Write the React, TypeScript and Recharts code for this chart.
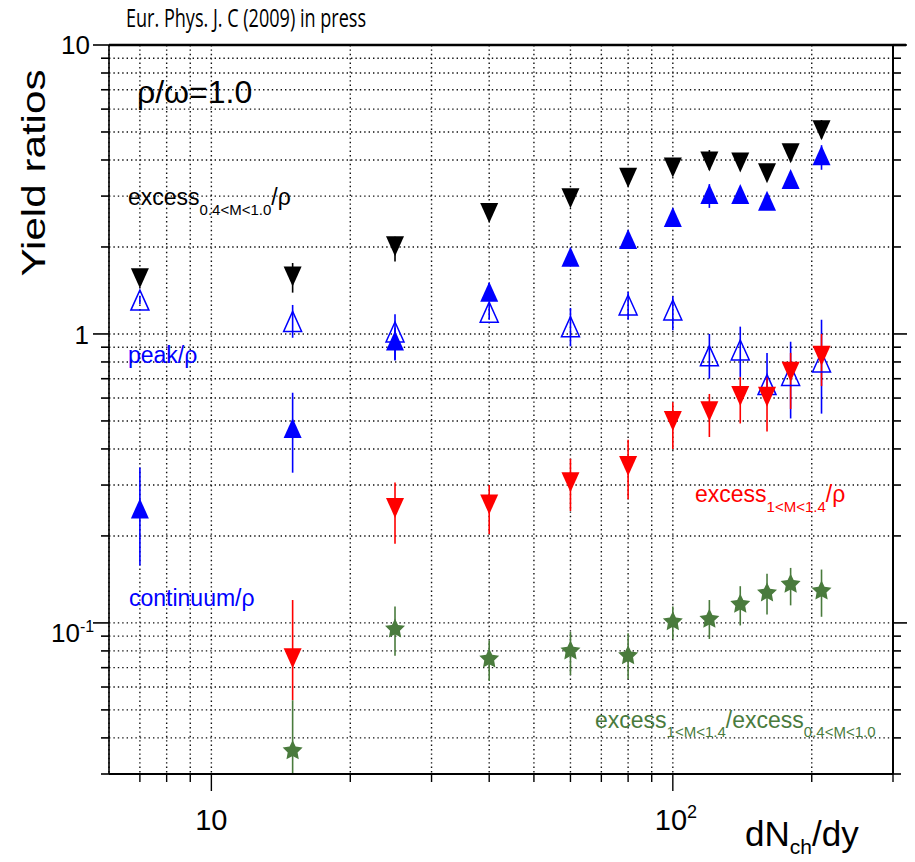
import React from 'react';
import { ScatterChart, Scatter, XAxis, YAxis, CartesianGrid, ErrorBar } from 'recharts';

// dN_ch/dy bins
const dNch = [7, 15, 25, 40, 60, 80, 100, 120, 140, 160, 180, 210];
const dNchNoLowest = [15, 25, 40, 60, 80, 100, 120, 140, 160, 180, 210];

// excess(0.4<M<1.0)/rho  (black, down triangles)
const excessLowVal = [1.56, 1.58, 2.01, 2.62, 2.95, 3.47, 3.77, 3.95, 3.92, 3.6, 4.22, 5.07];
const excessLowLo = [1.5, 1.39, 1.78, 2.5, 2.8, 3.3, 3.6, 3.7, 3.7, 3.4, 3.95, 4.75];
const excessLowHi = [1.62, 1.76, 2.17, 2.72, 3.1, 3.62, 3.95, 4.33, 4.1, 3.8, 4.45, 5.5];

// peak/rho  (blue, open up triangles)
const peakVal = [1.31, 1.105, 1.016, 1.19, 1.06, 1.26, 1.21, 0.84, 0.88, 0.668, 0.718, 0.8];
const peakLo = [1.27, 0.97, 0.81, 1.12, 0.906, 1.12, 1.03, 0.7, 0.71, 0.62, 0.51, 0.53];
const peakHi = [1.35, 1.26, 1.17, 1.27, 1.23, 1.4, 1.35, 1.0, 1.06, 0.86, 0.94, 1.12];

// continuum/rho  (blue, filled up triangles)
const contVal = [0.249, 0.473, 0.95, 1.4, 1.85, 2.13, 2.54, 3.05, 3.05, 2.89, 3.44, 4.15];
const contLo = [0.158, 0.331, 0.815, 1.3, 1.75, 2.05, 2.45, 2.73, 2.9, 2.7, 3.3, 3.7];
const contHi = [0.345, 0.626, 1.05, 1.5, 1.95, 2.22, 2.65, 3.3, 3.2, 3.05, 3.6, 4.5];

// excess(1<M<1.4)/rho  (red, down triangles)
const excessHighVal = [0.0755, 0.25, 0.257, 0.307, 0.349, 0.5, 0.54, 0.61, 0.606, 0.74, 0.84];
const excessHighLo = [0.054, 0.188, 0.203, 0.244, 0.268, 0.4, 0.44, 0.49, 0.46, 0.55, 0.66];
const excessHighHi = [0.12, 0.306, 0.3, 0.37, 0.43, 0.58, 0.62, 0.71, 0.71, 0.86, 1.0];

// excess(1<M<1.4)/excess(0.4<M<1.0)  (green stars)
const ratioVal = [0.0361, 0.0952, 0.075, 0.08, 0.077, 0.101, 0.103, 0.116, 0.127, 0.136, 0.129];
const ratioLo = [0.03, 0.077, 0.063, 0.066, 0.064, 0.088, 0.088, 0.098, 0.107, 0.115, 0.105];
const ratioHi = [0.054, 0.114, 0.087, 0.093, 0.092, 0.114, 0.12, 0.134, 0.148, 0.155, 0.153];

const xTicks = [7, 8, 9, 10, 20, 30, 40, 50, 60, 70, 80, 90, 100, 200, 300];
const yTicks = [
  0.03, 0.04, 0.05, 0.06, 0.07, 0.08, 0.09, 0.1, 0.2, 0.3, 0.4, 0.5, 0.6, 0.7, 0.8, 0.9,
  1, 2, 3, 4, 5, 6, 7, 8, 9, 10,
];

const BLUE = '#0000ff';
const RED = '#ff0000';
const GREEN = '#4a7b3d';
const FONT = 'Liberation Sans, Arial, Helvetica, sans-serif';

const toPoints = (xs: number[], vals: number[], lo: number[], hi: number[]) =>
  xs.map((x, i) => ({ x, y: vals[i], err: [vals[i] - lo[i], hi[i] - vals[i]] }));

const downTri = (color: string) => (p: any) => (
  <polygon
    points={`${p.cx - 9},${p.cy - 10} ${p.cx + 9},${p.cy - 10} ${p.cx},${p.cy + 10}`}
    fill={color}
  />
);

const upTri = (color: string, open = false) => (p: any) => (
  <polygon
    points={`${p.cx - 9},${p.cy + 10} ${p.cx + 9},${p.cy + 10} ${p.cx},${p.cy - 10}`}
    fill={open ? 'none' : color}
    stroke={color}
    strokeWidth={open ? 1.5 : 0}
  />
);

const star = (color: string) => (p: any) => {
  const pts: string[] = [];
  for (let k = 0; k < 10; k++) {
    const r = k % 2 === 0 ? 10.5 : 5.2;
    const a = -Math.PI / 2 + (k * Math.PI) / 5;
    pts.push(`${p.cx + r * Math.cos(a)},${p.cy + r * Math.sin(a)}`);
  }
  return <polygon points={pts.join(' ')} fill={color} />;
};

const BottomTick = (props: any) => {
  const { x, y, payload } = props;
  const v = payload.value;
  const major = v === 10 || v === 100;
  return (
    <g>
      <line x1={x} x2={x} y1={y} y2={y + (major ? 17 : 8)} stroke="#000" strokeWidth={1.4} />
      {v === 10 && (
        <text x={x} y={y + 56} textAnchor="middle" fontSize={29} fontFamily={FONT} fill="#000">
          10
        </text>
      )}
      {v === 100 && (
        <text x={x - 18} y={y + 56} fontSize={29} fontFamily={FONT} fill="#000">
          10
          <tspan dy={-12} fontSize={18}>2</tspan>
        </text>
      )}
    </g>
  );
};

const TopTick = (props: any) => {
  const { x, y, payload } = props;
  const major = payload.value === 10 || payload.value === 100;
  return <line x1={x} x2={x} y1={y} y2={y - (major ? 15 : 8)} stroke="#000" strokeWidth={1.4} />;
};

const LeftTick = (props: any) => {
  const { x, y, payload } = props;
  const v = payload.value;
  const major = v === 10 || v === 1 || v === 0.1;
  return (
    <g>
      <line x1={x - (major ? 16 : 8)} x2={x} y1={y} y2={y} stroke="#000" strokeWidth={1.6} />
      {v === 10 && (
        <text x={x - 19} y={y + 9} textAnchor="end" fontSize={26} fontFamily={FONT} fill="#000">
          10
        </text>
      )}
      {v === 1 && (
        <text x={x - 20} y={y + 10} textAnchor="end" fontSize={26} fontFamily={FONT} fill="#000">
          1
        </text>
      )}
      {v === 0.1 && (
        <g>
          <text x={x - 29} y={y + 19} textAnchor="end" fontSize={26} fontFamily={FONT} fill="#000">
            10
          </text>
          <text x={x - 29} y={y + 9} fontSize={16} fontFamily={FONT} fill="#000">
            -1
          </text>
        </g>
      )}
    </g>
  );
};

const RightTick = (props: any) => {
  const { x, y, payload } = props;
  const v = payload.value;
  const major = v === 10 || v === 1 || v === 0.1;
  return <line x1={x} x2={x + (major ? 16 : 8)} y1={y} y2={y} stroke="#000" strokeWidth={1.6} />;
};

export default function App() {
  const peak = toPoints(dNch, peakVal, peakLo, peakHi);
  const cont = toPoints(dNch, contVal, contLo, contHi);
  const exLow = toPoints(dNch, excessLowVal, excessLowLo, excessLowHi);
  const exHigh = toPoints(dNchNoLowest, excessHighVal, excessHighLo, excessHighHi);
  const ratio = toPoints(dNchNoLowest, ratioVal, ratioLo, ratioHi);

  return (
    <div style={{ position: 'relative', width: 899, height: 846 }}>
      <div style={{ position: 'absolute', left: -8, top: -8, width: 915, height: 862, background: '#fff' }}>
        <ScatterChart width={915} height={862} margin={{ top: 25, right: 2, bottom: 48, left: 49 }}>
          <CartesianGrid
            xAxisId="b"
            yAxisId="l"
            stroke="#111"
            strokeWidth={1.4}
            strokeDasharray="1.4 3"
          />
          <XAxis
            xAxisId="b"
            dataKey="x"
            type="number"
            scale="log"
            domain={[6, 300]}
            ticks={xTicks}
            interval={0}
            allowDataOverflow
            tickSize={0}
            tickMargin={0}
            tickLine={false}
            tick={<BottomTick />}
            axisLine={{ stroke: '#000', strokeWidth: 2 }}
            height={40}
          />
          <XAxis
            xAxisId="t"
            orientation="top"
            type="number"
            scale="log"
            domain={[6, 300]}
            ticks={xTicks}
            interval={0}
            allowDataOverflow
            tickSize={0}
            tickMargin={0}
            tickLine={false}
            tick={<TopTick />}
            axisLine={{ stroke: '#000', strokeWidth: 2.6 }}
            height={20}
          />
          <YAxis
            yAxisId="l"
            dataKey="y"
            type="number"
            scale="log"
            domain={[0.03, 10]}
            ticks={yTicks}
            interval={0}
            allowDataOverflow
            tickSize={0}
            tickMargin={0}
            tickLine={false}
            tick={<LeftTick />}
            axisLine={{ stroke: '#000', strokeWidth: 1.6 }}
            width={60}
          />
          <YAxis
            yAxisId="r"
            orientation="right"
            type="number"
            scale="log"
            domain={[0.03, 10]}
            ticks={yTicks}
            interval={0}
            allowDataOverflow
            tickSize={0}
            tickMargin={0}
            tickLine={false}
            tick={<RightTick />}
            axisLine={{ stroke: '#000', strokeWidth: 2 }}
            width={20}
          />
          <Scatter xAxisId="b" yAxisId="l" data={peak} shape={upTri(BLUE, true)} isAnimationActive={false}>
            <ErrorBar dataKey="err" direction="y" width={0} stroke={BLUE} strokeWidth={1.6} />
          </Scatter>
          <Scatter xAxisId="b" yAxisId="l" data={cont} shape={upTri(BLUE)} isAnimationActive={false}>
            <ErrorBar dataKey="err" direction="y" width={0} stroke={BLUE} strokeWidth={1.6} />
          </Scatter>
          <Scatter xAxisId="b" yAxisId="l" data={exLow} shape={downTri('#000')} isAnimationActive={false}>
            <ErrorBar dataKey="err" direction="y" width={0} stroke="#000" strokeWidth={1.6} />
          </Scatter>
          <Scatter xAxisId="b" yAxisId="l" data={exHigh} shape={downTri(RED)} isAnimationActive={false}>
            <ErrorBar dataKey="err" direction="y" width={0} stroke={RED} strokeWidth={1.6} />
          </Scatter>
          <Scatter xAxisId="b" yAxisId="l" data={ratio} shape={star(GREEN)} isAnimationActive={false}>
            <ErrorBar dataKey="err" direction="y" width={0} stroke={GREEN} strokeWidth={1.6} />
          </Scatter>
        </ScatterChart>
        <svg
          width={915}
          height={862}
          style={{ position: 'absolute', left: 0, top: 0, pointerEvents: 'none' }}
          fontFamily={FONT}
        >
          <line x1={893} x2={906} y1={45} y2={45} stroke="#000" strokeWidth={2.6} />
          <text x={126} y={27} fontFamily="Open Sans, sans-serif" fontSize={25} textLength={240} lengthAdjust="spacingAndGlyphs" fill="#000">
            Eur. Phys. J. C (2009) in press
          </text>
          <text
            transform="translate(45,173) rotate(-90)"
            textAnchor="middle"
            fontSize={34}
            textLength={207}
            lengthAdjust="spacingAndGlyphs"
            fill="#000"
          >
            Yield ratios
          </text>
          <text x={137} y={103} fontSize={32} fill="#000">ρ/ω=1.0</text>
          <text x={128} y={205} fontSize={23} fill="#000">
            excess<tspan dy={10} fontSize={15}>{'0.4<M<1.0'}</tspan>
            <tspan dy={-10}>/ρ</tspan>
          </text>
          <text x={128} y={363} fontSize={23} fill={BLUE}>peak/ρ</text>
          <text x={129} y={606} fontSize={23} fill={BLUE}>continuum/ρ</text>
          <text x={695} y={502} fontSize={23} fill={RED}>
            excess<tspan dy={10} fontSize={15}>{'1<M<1.4'}</tspan>
            <tspan dy={-10}>/ρ</tspan>
          </text>
          <text x={595} y={728} fontSize={23} fill={GREEN}>
            excess<tspan dy={9} fontSize={15}>{'1<M<1.4'}</tspan>
            <tspan dy={-9}>/excess</tspan>
            <tspan dy={9} fontSize={15}>{'0.4<M<1.0'}</tspan>
          </text>
          <text x={745} y={846} fontSize={35} fill="#000">
            dN<tspan dy={8} fontSize={21}>ch</tspan>
            <tspan dy={-8}>/dy</tspan>
          </text>
        </svg>
      </div>
    </div>
  );
}
